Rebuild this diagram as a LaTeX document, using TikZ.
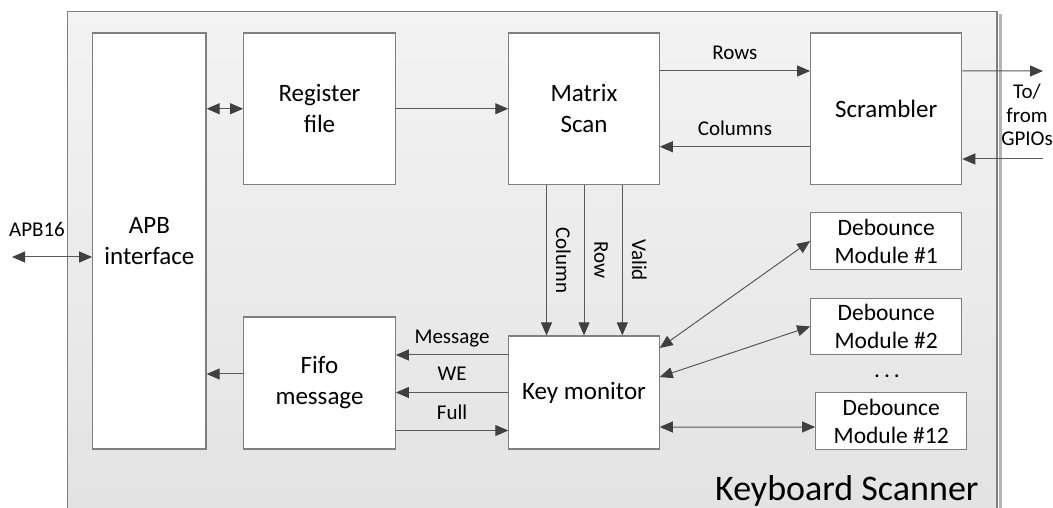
\documentclass[tikz,border=0pt]{standalone}
\usepackage{fontspec}
\setmainfont{Carlito}
\usetikzlibrary{arrows.meta}
\definecolor{trait}{HTML}{7F7F7F}
\definecolor{fil}{HTML}{5A5A5A}
\definecolor{pointe}{HTML}{404040}
\definecolor{fondhaut}{HTML}{F3F3F3}
\definecolor{fondbas}{HTML}{E3E3E3}
\definecolor{ombre}{HTML}{B4B4B4}
\begin{document}
\begin{tikzpicture}[
    x=1bp, y=-1bp,
    % Réglages des blocs
    bloc/.style={draw=trait, line width=1.2bp, fill=white, inner sep=0pt,
        align=center, font=\fontsize{25bp}{31bp}\selectfont},
    petit/.style={bloc, minimum width=151bp, minimum height=56.5bp,
        font=\fontsize{23.5bp}{28bp}\selectfont},
    lbl/.style={inner sep=0pt, text depth=0pt, font=\fontsize{21bp}{24bp}\selectfont},
    % Flèches simples et doubles
    fleche/.style={draw=fil, line width=1bp, -{Triangle[length=13bp,width=11bp,color=pointe]}},
    bifleche/.style={draw=fil, line width=1bp,
        {Triangle[length=13bp,width=11bp,color=pointe]}-{Triangle[length=13bp,width=11bp,color=pointe]}}
]
\useasboundingbox (0,0) rectangle (1053,508);
% Cadre
\shade[top color=fondhaut, bottom color=fondbas] (67.5,11.5) rectangle (997,508);
\draw[ombre, line width=2.5bp] (1000.5,14) -- (1000.5,508);
\draw[trait, line width=1.2bp] (67.5,508) -- (67.5,11.5) -- (997,11.5) -- (997,508);
\node[anchor=base east, font=\fontsize{36bp}{40bp}\selectfont] (titre) at (982,500) {Keyboard Scanner};

% Blocs
\node[bloc, minimum width=113.3bp, minimum height=416bp] (apb) at (149.4,241) {APB\\interface};
\node[bloc, minimum width=151.6bp, minimum height=151.5bp] (reg) at (319.5,108.75) {Register\\file};
\node[bloc, minimum width=150.3bp, minimum height=151.5bp] (scan) at (584,108.75) {Matrix\\Scan};
\node[bloc, minimum width=151bp, minimum height=151.5bp] (scr) at (886.2,108.75) {Scrambler};
\node[bloc, minimum width=151.6bp, minimum height=132bp] (fifo) at (319.5,383) {Fifo\\message};
\node[bloc, minimum width=150.3bp, minimum height=113bp] (key) at (584,392.5) {Key monitor};
\node[petit] (deb1) at (886.2,241) {Debounce\\Module \#1};
\node[petit] (deb2) at (886.2,326.5) {Debounce\\Module \#2};
\node[font=\fontsize{23.5bp}{28bp}\selectfont] (dots) at (887,376) {.\,.\,.};
\node[petit] (deb12) at (891.2,421) {Debounce\\Module \#12};

% Entrées / sorties
\node[lbl] (apbtxt) at (37,229) {APB16};
\node[align=center, inner sep=0pt, font=\fontsize{21bp}{23.5bp}\selectfont] (gpio) at (1027,115) {To/\\from\\GPIOs};
\coordinate (apbout) at (12,257);
\coordinate (gpo) at (1043,71);
\coordinate (gpi) at (1043,159);

% Liaisons
\draw[bifleche] (apbout) -- (apb.west |- apbout);
\draw[bifleche] (apb.east |- reg.west) -- (reg.west);
\draw[fleche] (reg.east) -- (scan.west);
\coordinate (rows) at ([yshift=37.75bp]scr.west);
\coordinate (cols) at ([yshift=-38bp]scr.west);
\draw[fleche] (scan.east |- rows) -- (rows) node[midway, above=11bp, lbl] {Rows};
\draw[fleche] (cols) -- (scan.east |- cols) node[midway, above=11bp, lbl] {Columns};
\draw[fleche] (scr.east |- rows) -- (gpo);
\draw[fleche] (gpi) -- (scr.east |- gpi);
\foreach \dx/\txt in {-37.5/Column, 0/Row, 38.3/Valid}
    \draw[fleche] ([xshift=\dx bp]scan.south) -- ([xshift=\dx bp]key.north)
        node[midway, xshift=17bp, rotate=-90, lbl] {\txt};
\coordinate (msg) at ([yshift=37.5bp]key.west);
\coordinate (full) at ([yshift=-38bp]key.west);
\coordinate (fifoapb) at ([yshift=9bp]fifo.west);
\draw[fleche] (msg) -- (fifo.east |- msg) node[midway, above=11bp, lbl] {Message};
\draw[fleche] (key.west) -- (fifo.east |- key.west) node[midway, above=11bp, lbl] {WE};
\draw[fleche] (fifo.east |- full) -- (full) node[midway, above=11bp, lbl] {Full};
\draw[fleche] (fifoapb) -- (apb.east |- fifoapb);
\draw[bifleche] ([yshift=44.5bp]key.east) -- (deb1.west);
\draw[bifleche] ([yshift=15.5bp]key.east) -- (deb2.west);
\draw[bifleche] ([yshift=-34.5bp]key.east) -- ([yshift=-6bp]deb12.west);
\end{tikzpicture}
\end{document}
